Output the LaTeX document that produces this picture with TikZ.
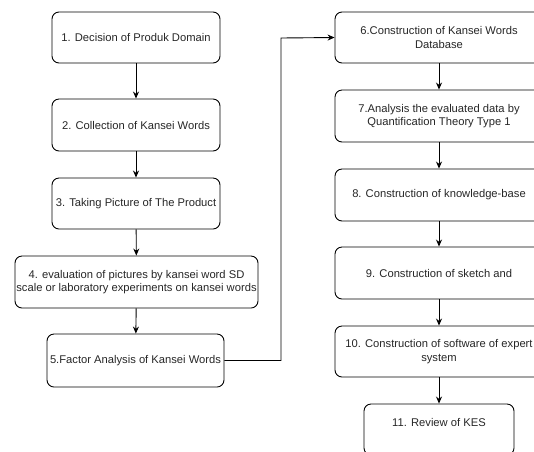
\documentclass[tikz,border=0pt]{standalone}
\usepackage{fontspec}
\setmainfont{Liberation Sans}
\usetikzlibrary{arrows.meta, positioning}

\begin{document}
\begin{tikzpicture}[x=1pt, y=-1pt,
    stepbox/.style={draw=black, rounded corners=7pt, line width=0.9pt, align=center,
      inner xsep=1pt, font=\fontsize{11.2}{13.4}\selectfont, text=black!85},
    flow/.style={-{Stealth[length=7pt,width=6pt]}, line width=0.9pt}]
  \useasboundingbox (0,0) rectangle (534,451);
  \clip (0,0) rectangle (534,451);

  % Left column
  \node[stepbox, minimum width=168pt, minimum height=51pt] (s1) at (136,37.5) {1. Decision of Produk Domain};
  \node[stepbox, minimum width=168pt, minimum height=52pt] (s2) at (136,125) {2. Collection of Kansei Words};
  \node[stepbox, minimum width=168pt, minimum height=51pt] (s3) at (136,203.5) {3. Taking Picture of The Product};
  \node[stepbox, minimum width=243pt, minimum height=52pt, inner xsep=0pt] (s4) at (136.5,282)
    {4. evaluation of pictures by kansei word SD\\scale or laboratory experiments on kansei words};
  \node[stepbox, minimum width=177pt, minimum height=53pt] (s5) at (135.5,360.5) {5.Factor Analysis of Kansei Words};

  % Right column
  \node[stepbox, minimum width=208pt, minimum height=51pt] (s6) at (439,37.5) {6.Construction of Kansei Words\\Database};
  \node[stepbox, minimum width=208pt, minimum height=52pt] (s7) at (439,116) {7.Analysis the evaluated data by\\Quantification Theory Type 1};
  \node[stepbox, minimum width=208pt, minimum height=52pt] (s8) at (439,195) {8. Construction of knowledge-base};
  \node[stepbox, minimum width=208pt, minimum height=52pt] (s9) at (439,273) {9. Construction of sketch and};
  \node[stepbox, minimum width=208pt, minimum height=51pt] (s10) at (439,351.5) {10. Construction of software of expert\\system};
  \node[stepbox, minimum width=150pt, minimum height=51pt, text depth=14pt] (s11) at (439,429.5) {11. Review of KES};

  % Connectors
  \draw[flow] (s1) -- (s2);
  \draw[flow] (s2) -- (s3);
  \draw[flow] (s3) -- (s4);
  \draw[flow] (s4) -- (s5);
  \coordinate (turn) at (281,38);
  \draw[flow] (s5.east) -| (turn) -- (s6.west);
  \draw[flow] (s6) -- (s7);
  \draw[flow] (s7) -- (s8);
  \draw[flow] (s8) -- (s9);
  \draw[flow] (s9) -- (s10);
  \draw[flow] (s10) -- (s11);
\end{tikzpicture}
\end{document}
